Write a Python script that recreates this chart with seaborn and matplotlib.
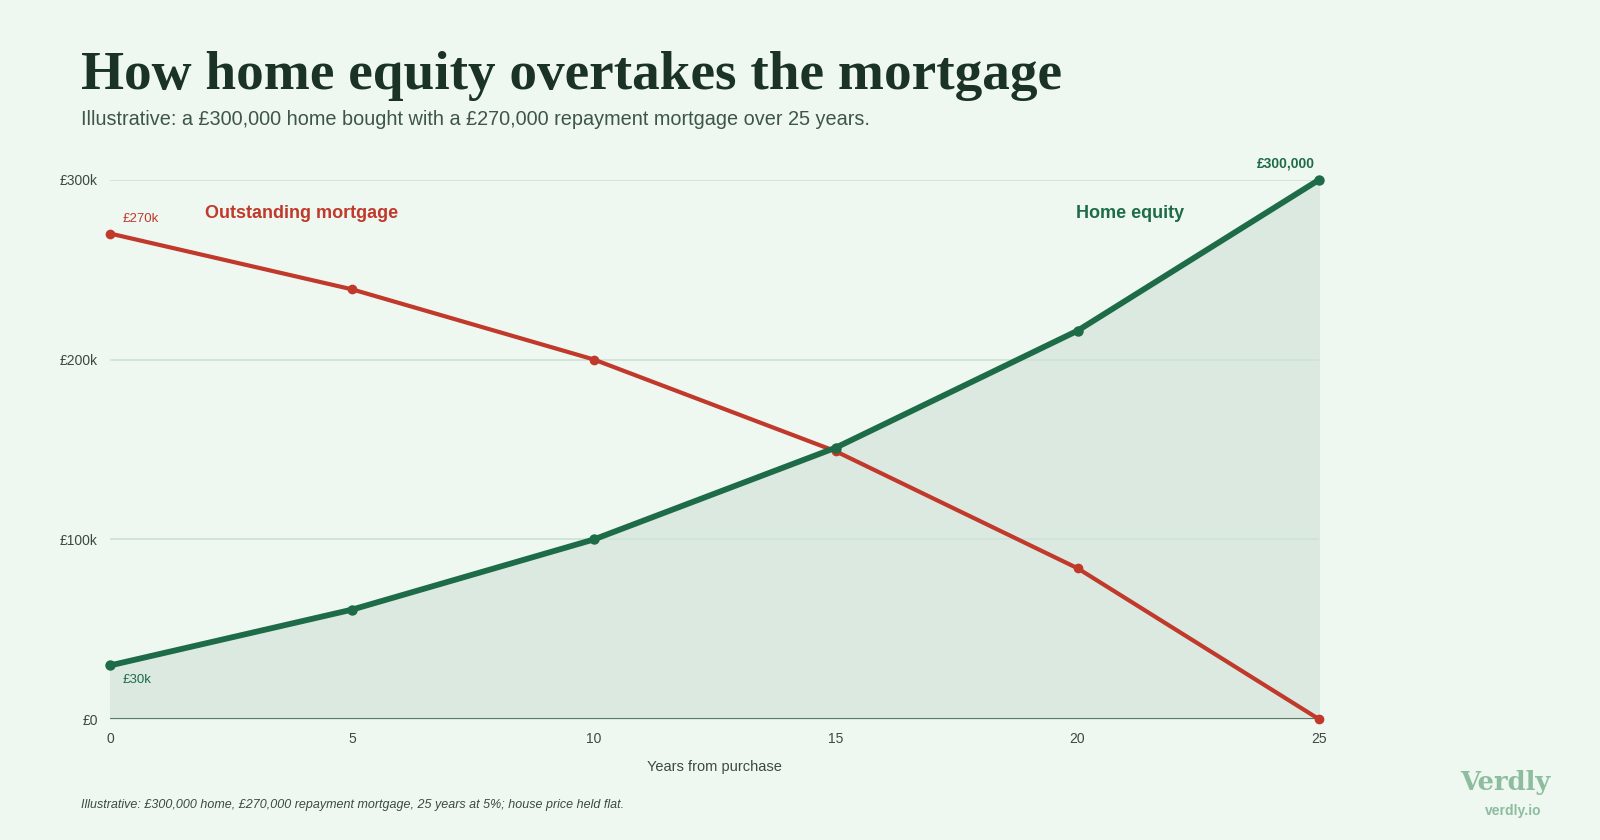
import seaborn as sns
import pandas as pd
import numpy as np
import matplotlib.pyplot as plt

# data
years = [0, 5, 10, 15, 20, 25]
mortgage = [270000, 239000, 200000, 149000, 84000, 0]
equity = [30000, 61000, 100000, 151000, 216000, 300000]
y_ticks = [0, 100000, 200000, 300000]
y_tick_labels = ["£0", "£100k", "£200k", "£300k"]

bg = "#eef8f1"
red = "#c0392b"
green = "#1e6b47"

sns.set_theme(style="white")
plt.rcParams["font.family"] = ["Liberation Sans", "DejaVu Sans"]

df = pd.DataFrame({"year": years, "Outstanding mortgage": mortgage, "Home equity": equity})

fig = plt.figure(figsize=(16, 8.4), dpi=100, facecolor=bg)
ax = fig.add_axes([0.0689, 0.1436, 0.7557, 0.6426])
ax.set_facecolor(bg)

ax.fill_between(df["year"], df["Home equity"], 0, color="#dbe9e0", zorder=1)
for y in y_ticks[1:]:
    ax.axhline(y, color="#cde2d4", lw=1.2, zorder=1.5)

sns.lineplot(data=df, x="year", y="Outstanding mortgage", ax=ax, color=red, lw=3,
             marker="o", markersize=7, markeredgewidth=0, zorder=3, clip_on=False)
sns.lineplot(data=df, x="year", y="Home equity", ax=ax, color=green, lw=4.2,
             marker="o", markersize=7.5, markeredgewidth=0, zorder=4, clip_on=False)

ax.axhline(0, color="#5d7a68", lw=2.2, zorder=2)

ax.set_xlim(0, 25)
ax.set_ylim(0, 300000)
ax.set_xticks(years)
ax.set_xticklabels([str(y) for y in years])
ax.set_yticks(y_ticks)
ax.set_yticklabels(y_tick_labels)
ax.tick_params(axis="both", length=0, labelsize=10, colors="#3b4a40")
ax.tick_params(axis="x", pad=9)
ax.tick_params(axis="y", pad=9)
for s in ax.spines.values():
    s.set_visible(False)
ax.set_xlabel("Years from purchase", fontsize=10.5, color="#3b4a40", labelpad=10)
ax.set_ylabel("")

# series labels
ax.text(1.95, 281000, "Outstanding mortgage", color=red, fontsize=13, fontweight="bold",
        va="center", ha="left")
ax.text(19.97, 281000, "Home equity", color=green, fontsize=13, fontweight="bold",
        va="center", ha="left")
ax.text(0.25, 278000, "£270k", color=red, fontsize=9.5, va="center")
ax.text(0.25, 22000, "£30k", color=green, fontsize=9.5, va="center")
ax.text(24.9, 309000, "£300,000", color=green, fontsize=10, fontweight="bold",
        va="center", ha="right")

fig.text(0.0505, 0.894, "How home equity overtakes the mortgage", fontsize=39.8,
         fontweight="bold", family=["Liberation Serif", "DejaVu Serif"], color="#1b3326",
         va="baseline")
fig.text(0.0505, 0.851, "Illustrative: a £300,000 home bought with a £270,000 repayment mortgage over 25 years.",
         fontsize=14.3, color="#3e5549", va="baseline")
fig.text(0.0505, 0.042, "Illustrative: £300,000 home, £270,000 repayment mortgage, 25 years at 5%; house price held flat.",
         fontsize=9, style="italic", color="#3b4a40", va="center")
fig.text(0.941, 0.068, "Verdly", fontsize=18.5, fontweight="bold",
         family=["DejaVu Serif"], color="#8dbd9e", ha="center", va="center")
fig.text(0.9455, 0.035, "verdly.io", fontsize=10, fontweight="bold", color="#8dbd9e",
         ha="center", va="center")

fig.savefig("out.png", dpi=100, facecolor=bg)
